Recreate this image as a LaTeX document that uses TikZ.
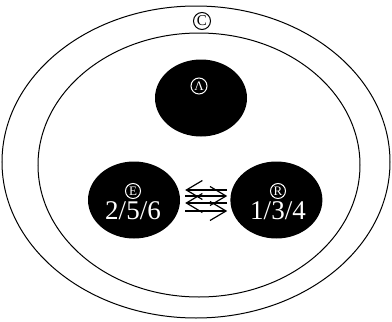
\documentclass[tikz,border=0pt]{standalone}
\usepackage{fontspec}
\setmainfont{Liberation Serif}
\usetikzlibrary{arrows.meta,positioning,shapes.geometric}

\begin{document}
\begin{tikzpicture}[x=1pt, y=-1pt,
  blob/.style={ellipse, fill=black, minimum width=92pt, minimum height=77pt, inner sep=0pt},
  circled/.style={circle, draw=white, text=white, line width=1pt, inner sep=0pt, minimum size=15pt, font=\fontsize{13}{13}\selectfont},
  nums/.style={text=white, inner sep=0pt, font=\fontsize{27}{28}\selectfont},
  arr/.style={-{Straight Barb[length=16pt, width=19pt]}, line width=1.2pt}
]
  \useasboundingbox (0,0) rectangle (392,322);
  % cell membranes
  \draw[line width=1pt] (196,162) ellipse [x radius=194, y radius=156];
  \draw[line width=1pt] (199,165) ellipse [x radius=161, y radius=132];
  \node[circled, draw=black, text=black, fill=white, minimum size=17pt, font=\fontsize{15}{15}\selectfont] (cmark) at (202,21) {C};

  \node[blob] (A) at (201,98) {};
  \node[blob] (E) at (134,200) {};
  \node[blob, right=50pt of E] (R) {};

  \node[circled, minimum size=16pt] (amark) at (199,86) {Λ};
  \node[circled] (emark) at (133,191) {E};
  \node[nums, below=2pt of emark] (enum) {2/5/6};
  \node[circled] (rmark) at (278,191) {R};
  \node[nums, below=2pt of rmark] (rnum) {1/3/4};

  \draw[arr] ([xshift=-3pt, yshift=10pt]R.west) -- ([xshift=5pt, yshift=10pt]E.east);
  \draw[arr] ([xshift=5pt, yshift=4pt]E.east) -- ([xshift=-3pt, yshift=4pt]R.west);
  \draw[arr] ([xshift=-3pt, yshift=-3pt]R.west) -- ([xshift=5pt, yshift=-3pt]E.east);
  \draw[arr] ([xshift=5pt, yshift=-11pt]E.east) -- ([xshift=-3pt, yshift=-11pt]R.west);
\end{tikzpicture}
\end{document}
